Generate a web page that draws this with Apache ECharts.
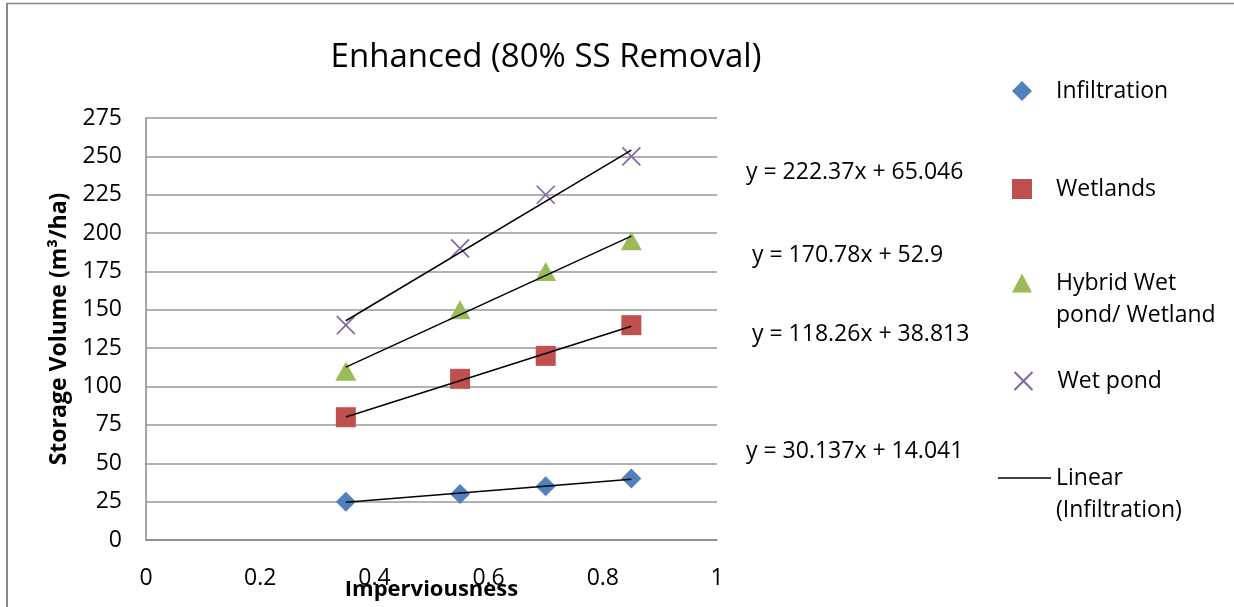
<!DOCTYPE html>
<html><head><meta charset="utf-8">
<script src="https://cdn.jsdelivr.net/npm/echarts@6/dist/echarts.min.js"></script>
<style>html,body{margin:0;padding:0;background:#fff}#c{width:1234px;height:607px}</style>
</head><body><div id="c"></div>
<script>
const xValues = [0.35, 0.55, 0.7, 0.85];
const infiltration = [25, 30, 35, 40];
const wetlands = [80, 105, 120, 140];
const hybrid = [110, 150, 175, 195];
const wetPond = [140, 190, 225, 250];
const seriesNames = ['Infiltration', 'Wetlands', 'Hybrid Wet\npond/ Wetland', 'Wet pond'];
const trendName = 'Linear\n(Infiltration)';
const slopes = [30.137, 118.26, 170.78, 222.37];
const intercepts = [14.041, 38.813, 52.9, 65.046];
const equationLabels = ['y = 30.137x + 14.041', 'y = 118.26x + 38.813', 'y = 170.78x + 52.9', 'y = 222.37x + 65.046'];
const yTicks = [0, 25, 50, 75, 100, 125, 150, 175, 200, 225, 250, 275];
const xTicks = [0, 0.2, 0.4, 0.6, 0.8, 1];

const FONT = "'Open Sans', 'Noto Sans', sans-serif";
const colors = ['#4F81BD', '#C0504D', '#9BBB59', '#8064A2'];
const paths = ['path://M5,0L10,5L5,10L0,5Z', 'path://M0,0H10V10H0Z', 'path://M5,0L10,9.5H0Z', 'path://M0,0L10,10M10,0L0,10'];
const sizes = [[20, 20], [20, 20], [21, 19], [18, 18]];
const values = [infiltration, wetlands, hybrid, wetPond];

const series = [];
values.forEach((v, i) => {
  const isX = i === 3;
  series.push({
    type: 'scatter', name: seriesNames[i],
    data: xValues.map((x, j) => [x, v[j]]),
    symbol: paths[i], symbolSize: sizes[i],
    itemStyle: isX ? {color: 'none', borderColor: colors[i], borderWidth: 1.6, opacity: 1} : {color: colors[i], opacity: 1},
    z: 3
  });
});
values.forEach((v, i) => {
  const x0 = xValues[0], x1 = xValues[xValues.length - 1];
  series.push({
    type: 'line', name: i === 0 ? trendName : 'trend' + i,
    data: [[x0, slopes[i] * x0 + intercepts[i]], [x1, slopes[i] * x1 + intercepts[i]]],
    symbol: 'none', showSymbol: false, lineStyle: {color: '#000', width: 1.5}, itemStyle: {color: '#000'},
    z: 4, silent: true
  });
});

const legendText = {fontFamily: FONT, fontSize: 23, color: '#000', lineHeight: 32};
const iconCenters = [91, 189, 283, 381];
const legends = seriesNames.map((n, i) => {
  const multi = n.includes('\n');
  const h = multi ? 96 : 32;
  return {
    data: [{name: n, icon: paths[i]}], left: 1012, top: iconCenters[i] - h / 2, padding: 0,
    itemWidth: 58, itemHeight: sizes[i][1], symbolKeepAspect: true, selectedMode: false,
    formatter: multi ? (s => '\n' + s) : (s => s),
    textStyle: legendText
  };
});
legends.push({
  data: [{name: trendName, icon: 'rect'}], left: 998, top: 478 - 48, padding: 0,
  itemWidth: 53, itemHeight: 1.5, selectedMode: false,
  formatter: s => '\n' + s,
  textStyle: legendText
});

const eqCenters = [[746, 452], [752, 335], [752, 256], [746, 173]];
const graphics = equationLabels.map((t, i) => ({
  type: 'text', left: eqCenters[i][0], top: eqCenters[i][1] - 12,
  style: {text: t, fontFamily: FONT, fontSize: 23, fill: '#000'}
}));
graphics.push({type: 'line', shape: {x1: 7, y1: 3, x2: 7, y2: 607}, style: {stroke: '#888', lineWidth: 2}});
graphics.push({type: 'line', shape: {x1: 6, y1: 3.5, x2: 1234, y2: 3.5}, style: {stroke: '#888', lineWidth: 1.5}});

const chart = echarts.init(document.getElementById('c'), null, {renderer: 'canvas'});
chart.setOption({
  animation: false,
  backgroundColor: '#fff',
  title: {text: 'Enhanced (80% SS Removal)', left: 546, top: 41, textAlign: 'center', padding: 0,
    textStyle: {fontFamily: FONT, fontSize: 33, fontWeight: 'normal', color: '#000'}},
  grid: {left: 146, right: 517, top: 118, bottom: 67, outerBoundsMode: 'none', containLabel: false},
  xAxis: {type: 'value', min: xTicks[0], max: xTicks[xTicks.length - 1], interval: 0.2,
    name: 'Imperviousness', nameLocation: 'middle', nameGap: 39, nameMoveOverlap: false,
    nameTextStyle: {fontFamily: FONT, fontSize: 22, fontWeight: 'bold', color: '#000'},
    axisLine: {show: true, lineStyle: {color: '#888', width: 1.5}},
    axisTick: {show: false}, splitLine: {show: false},
    axisLabel: {fontFamily: FONT, fontSize: 23, color: '#000', margin: 27}},
  yAxis: {type: 'value', min: yTicks[0], max: yTicks[yTicks.length - 1], interval: 25,
    name: 'Storage Volume (m³/ha)', nameLocation: 'middle', nameGap: 75, nameRotate: 90, nameMoveOverlap: false,
    nameTextStyle: {fontFamily: FONT, fontSize: 23, fontWeight: 'bold', color: '#000'},
    axisLine: {show: true, lineStyle: {color: '#888', width: 1.5}},
    axisTick: {show: false},
    splitLine: {show: true, lineStyle: {color: '#999', width: 1.5}},
    axisLabel: {fontFamily: FONT, fontSize: 23, color: '#000', margin: 24}},
  legend: legends,
  graphic: graphics,
  series: series
});
</script></body></html>
